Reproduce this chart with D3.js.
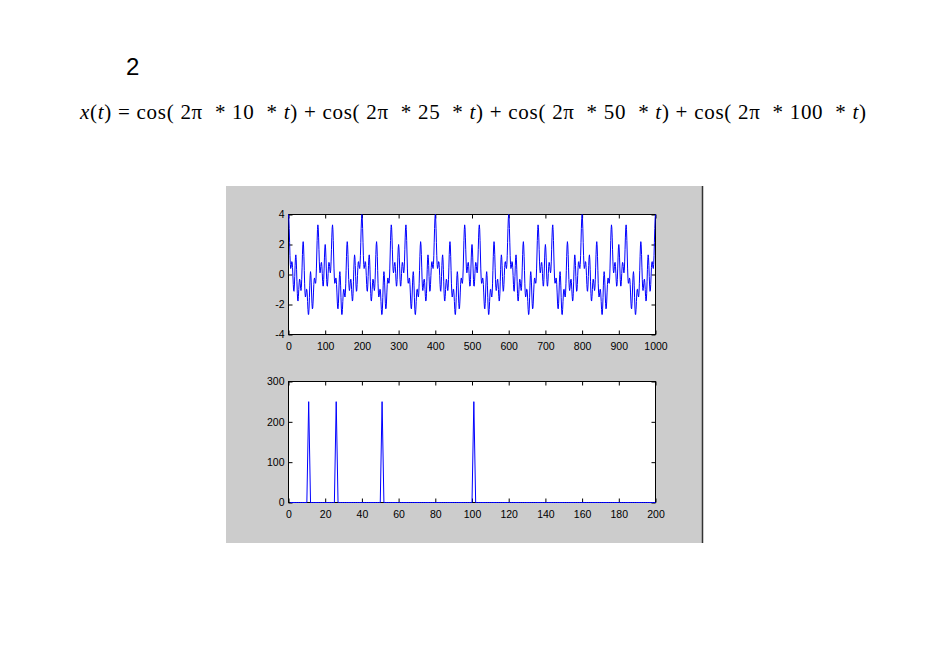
<!DOCTYPE html>
<html>
<head>
<meta charset="utf-8">
<script src="https://cdn.jsdelivr.net/npm/d3@7"></script>
<style>
  body { margin: 0; background: #fff; }
  svg { display: block; }
  .tick text { font-family: "Liberation Sans", Arial, sans-serif; font-size: 10.5px; fill: #000; }
</style>
</head>
<body>
<svg id="chart" width="950" height="672"></svg>
<script>
// sampled signal x(n), n = 0..1000 (5 periods of 200 samples)
const timeSignal = [
  4,3.75,3.06,2.15,1.28,0.66,0.4,0.46,0.69,0.86,0.81,0.47,-0.08,-0.67,-1.07,-1.12,-0.77,-0.13,0.59,1.14,
  1.31,1.02,0.35,-0.49,-1.25,-1.71,-1.77,-1.48,-1,-0.55,-0.31,-0.35,-0.62,-0.92,-1.07,-0.88,-0.33,0.49,1.34,1.98,
  2.19,1.9,1.19,0.26,-0.62,-1.24,-1.5,-1.43,-1.18,-0.98,-1,-1.3,-1.8,-2.33,-2.67,-2.66,-2.24,-1.52,-0.71,-0.07,
  0.19,0,-0.56,-1.3,-1.95,-2.29,-2.24,-1.83,-1.23,-0.67,-0.31,-0.23,-0.38,-0.57,-0.59,-0.29,0.37,1.3,2.26,3,
  3.31,3.12,2.49,1.65,0.84,0.29,0.11,0.24,0.54,0.78,0.81,0.55,0.07,-0.45,-0.78,-0.76,-0.34,0.37,1.16,1.77,
  2,1.77,1.16,0.37,-0.34,-0.76,-0.78,-0.45,0.07,0.55,0.81,0.78,0.54,0.24,0.11,0.29,0.84,1.65,2.49,3.12,
  3.31,3,2.26,1.3,0.37,-0.29,-0.59,-0.57,-0.38,-0.23,-0.31,-0.67,-1.23,-1.83,-2.24,-2.29,-1.95,-1.3,-0.56,0,
  0.19,-0.07,-0.71,-1.52,-2.24,-2.66,-2.67,-2.33,-1.8,-1.3,-1,-0.98,-1.18,-1.43,-1.5,-1.24,-0.62,0.26,1.19,1.9,
  2.19,1.98,1.34,0.49,-0.33,-0.88,-1.07,-0.92,-0.62,-0.35,-0.31,-0.55,-1,-1.48,-1.77,-1.71,-1.25,-0.49,0.35,1.02,
  1.31,1.14,0.59,-0.13,-0.77,-1.12,-1.07,-0.67,-0.08,0.47,0.81,0.86,0.69,0.46,0.4,0.66,1.28,2.15,3.06,3.75,
  4,3.75,3.06,2.15,1.28,0.66,0.4,0.46,0.69,0.86,0.81,0.47,-0.08,-0.67,-1.07,-1.12,-0.77,-0.13,0.59,1.14,
  1.31,1.02,0.35,-0.49,-1.25,-1.71,-1.77,-1.48,-1,-0.55,-0.31,-0.35,-0.62,-0.92,-1.07,-0.88,-0.33,0.49,1.34,1.98,
  2.19,1.9,1.19,0.26,-0.62,-1.24,-1.5,-1.43,-1.18,-0.98,-1,-1.3,-1.8,-2.33,-2.67,-2.66,-2.24,-1.52,-0.71,-0.07,
  0.19,0,-0.56,-1.3,-1.95,-2.29,-2.24,-1.83,-1.23,-0.67,-0.31,-0.23,-0.38,-0.57,-0.59,-0.29,0.37,1.3,2.26,3,
  3.31,3.12,2.49,1.65,0.84,0.29,0.11,0.24,0.54,0.78,0.81,0.55,0.07,-0.45,-0.78,-0.76,-0.34,0.37,1.16,1.77,
  2,1.77,1.16,0.37,-0.34,-0.76,-0.78,-0.45,0.07,0.55,0.81,0.78,0.54,0.24,0.11,0.29,0.84,1.65,2.49,3.12,
  3.31,3,2.26,1.3,0.37,-0.29,-0.59,-0.57,-0.38,-0.23,-0.31,-0.67,-1.23,-1.83,-2.24,-2.29,-1.95,-1.3,-0.56,0,
  0.19,-0.07,-0.71,-1.52,-2.24,-2.66,-2.67,-2.33,-1.8,-1.3,-1,-0.98,-1.18,-1.43,-1.5,-1.24,-0.62,0.26,1.19,1.9,
  2.19,1.98,1.34,0.49,-0.33,-0.88,-1.07,-0.92,-0.62,-0.35,-0.31,-0.55,-1,-1.48,-1.77,-1.71,-1.25,-0.49,0.35,1.02,
  1.31,1.14,0.59,-0.13,-0.77,-1.12,-1.07,-0.67,-0.08,0.47,0.81,0.86,0.69,0.46,0.4,0.66,1.28,2.15,3.06,3.75,
  4,3.75,3.06,2.15,1.28,0.66,0.4,0.46,0.69,0.86,0.81,0.47,-0.08,-0.67,-1.07,-1.12,-0.77,-0.13,0.59,1.14,
  1.31,1.02,0.35,-0.49,-1.25,-1.71,-1.77,-1.48,-1,-0.55,-0.31,-0.35,-0.62,-0.92,-1.07,-0.88,-0.33,0.49,1.34,1.98,
  2.19,1.9,1.19,0.26,-0.62,-1.24,-1.5,-1.43,-1.18,-0.98,-1,-1.3,-1.8,-2.33,-2.67,-2.66,-2.24,-1.52,-0.71,-0.07,
  0.19,0,-0.56,-1.3,-1.95,-2.29,-2.24,-1.83,-1.23,-0.67,-0.31,-0.23,-0.38,-0.57,-0.59,-0.29,0.37,1.3,2.26,3,
  3.31,3.12,2.49,1.65,0.84,0.29,0.11,0.24,0.54,0.78,0.81,0.55,0.07,-0.45,-0.78,-0.76,-0.34,0.37,1.16,1.77,
  2,1.77,1.16,0.37,-0.34,-0.76,-0.78,-0.45,0.07,0.55,0.81,0.78,0.54,0.24,0.11,0.29,0.84,1.65,2.49,3.12,
  3.31,3,2.26,1.3,0.37,-0.29,-0.59,-0.57,-0.38,-0.23,-0.31,-0.67,-1.23,-1.83,-2.24,-2.29,-1.95,-1.3,-0.56,0,
  0.19,-0.07,-0.71,-1.52,-2.24,-2.66,-2.67,-2.33,-1.8,-1.3,-1,-0.98,-1.18,-1.43,-1.5,-1.24,-0.62,0.26,1.19,1.9,
  2.19,1.98,1.34,0.49,-0.33,-0.88,-1.07,-0.92,-0.62,-0.35,-0.31,-0.55,-1,-1.48,-1.77,-1.71,-1.25,-0.49,0.35,1.02,
  1.31,1.14,0.59,-0.13,-0.77,-1.12,-1.07,-0.67,-0.08,0.47,0.81,0.86,0.69,0.46,0.4,0.66,1.28,2.15,3.06,3.75,
  4,3.75,3.06,2.15,1.28,0.66,0.4,0.46,0.69,0.86,0.81,0.47,-0.08,-0.67,-1.07,-1.12,-0.77,-0.13,0.59,1.14,
  1.31,1.02,0.35,-0.49,-1.25,-1.71,-1.77,-1.48,-1,-0.55,-0.31,-0.35,-0.62,-0.92,-1.07,-0.88,-0.33,0.49,1.34,1.98,
  2.19,1.9,1.19,0.26,-0.62,-1.24,-1.5,-1.43,-1.18,-0.98,-1,-1.3,-1.8,-2.33,-2.67,-2.66,-2.24,-1.52,-0.71,-0.07,
  0.19,0,-0.56,-1.3,-1.95,-2.29,-2.24,-1.83,-1.23,-0.67,-0.31,-0.23,-0.38,-0.57,-0.59,-0.29,0.37,1.3,2.26,3,
  3.31,3.12,2.49,1.65,0.84,0.29,0.11,0.24,0.54,0.78,0.81,0.55,0.07,-0.45,-0.78,-0.76,-0.34,0.37,1.16,1.77,
  2,1.77,1.16,0.37,-0.34,-0.76,-0.78,-0.45,0.07,0.55,0.81,0.78,0.54,0.24,0.11,0.29,0.84,1.65,2.49,3.12,
  3.31,3,2.26,1.3,0.37,-0.29,-0.59,-0.57,-0.38,-0.23,-0.31,-0.67,-1.23,-1.83,-2.24,-2.29,-1.95,-1.3,-0.56,0,
  0.19,-0.07,-0.71,-1.52,-2.24,-2.66,-2.67,-2.33,-1.8,-1.3,-1,-0.98,-1.18,-1.43,-1.5,-1.24,-0.62,0.26,1.19,1.9,
  2.19,1.98,1.34,0.49,-0.33,-0.88,-1.07,-0.92,-0.62,-0.35,-0.31,-0.55,-1,-1.48,-1.77,-1.71,-1.25,-0.49,0.35,1.02,
  1.31,1.14,0.59,-0.13,-0.77,-1.12,-1.07,-0.67,-0.08,0.47,0.81,0.86,0.69,0.46,0.4,0.66,1.28,2.15,3.06,3.75,
  4,3.75,3.06,2.15,1.28,0.66,0.4,0.46,0.69,0.86,0.81,0.47,-0.08,-0.67,-1.07,-1.12,-0.77,-0.13,0.59,1.14,
  1.31,1.02,0.35,-0.49,-1.25,-1.71,-1.77,-1.48,-1,-0.55,-0.31,-0.35,-0.62,-0.92,-1.07,-0.88,-0.33,0.49,1.34,1.98,
  2.19,1.9,1.19,0.26,-0.62,-1.24,-1.5,-1.43,-1.18,-0.98,-1,-1.3,-1.8,-2.33,-2.67,-2.66,-2.24,-1.52,-0.71,-0.07,
  0.19,0,-0.56,-1.3,-1.95,-2.29,-2.24,-1.83,-1.23,-0.67,-0.31,-0.23,-0.38,-0.57,-0.59,-0.29,0.37,1.3,2.26,3,
  3.31,3.12,2.49,1.65,0.84,0.29,0.11,0.24,0.54,0.78,0.81,0.55,0.07,-0.45,-0.78,-0.76,-0.34,0.37,1.16,1.77,
  2,1.77,1.16,0.37,-0.34,-0.76,-0.78,-0.45,0.07,0.55,0.81,0.78,0.54,0.24,0.11,0.29,0.84,1.65,2.49,3.12,
  3.31,3,2.26,1.3,0.37,-0.29,-0.59,-0.57,-0.38,-0.23,-0.31,-0.67,-1.23,-1.83,-2.24,-2.29,-1.95,-1.3,-0.56,0,
  0.19,-0.07,-0.71,-1.52,-2.24,-2.66,-2.67,-2.33,-1.8,-1.3,-1,-0.98,-1.18,-1.43,-1.5,-1.24,-0.62,0.26,1.19,1.9,
  2.19,1.98,1.34,0.49,-0.33,-0.88,-1.07,-0.92,-0.62,-0.35,-0.31,-0.55,-1,-1.48,-1.77,-1.71,-1.25,-0.49,0.35,1.02,
  1.31,1.14,0.59,-0.13,-0.77,-1.12,-1.07,-0.67,-0.08,0.47,0.81,0.86,0.69,0.46,0.4,0.66,1.28,2.15,3.06,3.75,
  4
];

// magnitude spectrum: bins 1..200, spikes at the four tones
const specBins = d3.range(1, 201);
const spikeBins = [11, 26, 51, 101];
const spikeMags = [250, 250, 250, 250];

const timeTicks = [0, 100, 200, 300, 400, 500, 600, 700, 800, 900, 1000];
const sigTicks = [-4, -2, 0, 2, 4];
const freqTicks = [0, 20, 40, 60, 80, 100, 120, 140, 160, 180, 200];
const magTicks = [0, 100, 200, 300];

const svg = d3.select('#chart');

svg.append('rect').attr('width', 950).attr('height', 672).attr('fill', '#fff');

// slide heading
svg.append('text')
    .attr('x', 126).attr('y', 75)
    .style('font-family', '"Liberation Sans", Arial, sans-serif')
    .style('font-size', '24px')
    .text('2');

let formula = svg.append('text')
    .attr('x', 80).attr('y', 119)
    .style('font-family', '"Liberation Serif", "Times New Roman", serif')
    .style('font-size', '21px')
    .style('white-space', 'pre');

let parts = [
    ['x', true], ['(', false], ['t', true], [') = cos( 2π  * 10  * ', false], ['t', true],
    [') + cos( 2π  * 25  * ', false], ['t', true],
    [') + cos( 2π  * 50  * ', false], ['t', true],
    [') + cos( 2π  * 100  * ', false], ['t', true], [')', false]
];
parts.forEach(function(p) {
    formula.append('tspan')
        .style('font-style', p[1] ? 'italic' : 'normal')
        .text(p[0]);
});
formula.attr('textLength', 786).attr('lengthAdjust', 'spacing');

// figure window
svg.append('rect')
    .attr('x', 226).attr('y', 186)
    .attr('width', 476).attr('height', 357)
    .attr('fill', '#cccccc');
svg.append('line')
    .attr('x1', 702.5).attr('x2', 702.5)
    .attr('y1', 186).attr('y2', 543)
    .attr('stroke', '#333').attr('stroke-width', 1.5);

function drawPanel(box, xDomain, yDomain, xTicks, yTicks, data) {
    let x = d3.scaleLinear().domain(xDomain).range([box.left, box.right]);
    let y = d3.scaleLinear().domain(yDomain).range([box.bottom, box.top]);
    let fmt = function(d) { return d < 0 ? '-' + Math.abs(d) : String(d); };

    let g = svg.append('g');

    g.append('rect')
        .attr('x', box.left).attr('y', box.top)
        .attr('width', box.right - box.left)
        .attr('height', box.bottom - box.top)
        .attr('fill', '#fff');

    g.append('g')
        .attr('transform', 'translate(0,' + box.bottom + ')')
        .call(d3.axisBottom(x).tickValues(xTicks).tickSize(-4).tickPadding(8).tickFormat(fmt));
    g.append('g')
        .attr('transform', 'translate(0,' + box.top + ')')
        .call(d3.axisTop(x).tickValues(xTicks).tickSize(-4).tickFormat(''));
    g.append('g')
        .attr('transform', 'translate(' + box.left + ',0)')
        .call(d3.axisLeft(y).tickValues(yTicks).tickSize(-4).tickPadding(4).tickFormat(fmt));
    g.append('g')
        .attr('transform', 'translate(' + box.right + ',0)')
        .call(d3.axisRight(y).tickValues(yTicks).tickSize(-4).tickFormat(''));

    g.selectAll('.domain').remove();
    g.selectAll('.tick line').attr('stroke', '#000');

    g.append('rect')
        .attr('x', box.left).attr('y', box.top)
        .attr('width', box.right - box.left)
        .attr('height', box.bottom - box.top)
        .attr('fill', 'none')
        .attr('stroke', '#000')
        .attr('stroke-width', 1);

    let line = d3.line()
        .x(function(d) { return x(d[0]); })
        .y(function(d) { return y(d[1]); });

    g.append('path')
        .datum(data)
        .attr('d', line)
        .attr('fill', 'none')
        .attr('stroke', '#0000ff')
        .attr('stroke-width', 1);
}

let timeData = timeSignal.map(function(v, i) { return [i, v]; });
let specData = specBins.map(function(b) {
    let k = spikeBins.indexOf(b);
    return [b, k >= 0 ? spikeMags[k] : 0];
});

drawPanel({left: 288.5, right: 655.5, top: 214.5, bottom: 334.5},
    [0, 1000], [-4, 4], timeTicks, sigTicks, timeData);
drawPanel({left: 288.5, right: 655.5, top: 381.5, bottom: 502.5},
    [0, 200], [0, 300], freqTicks, magTicks, specData);
</script>
</body>
</html>
